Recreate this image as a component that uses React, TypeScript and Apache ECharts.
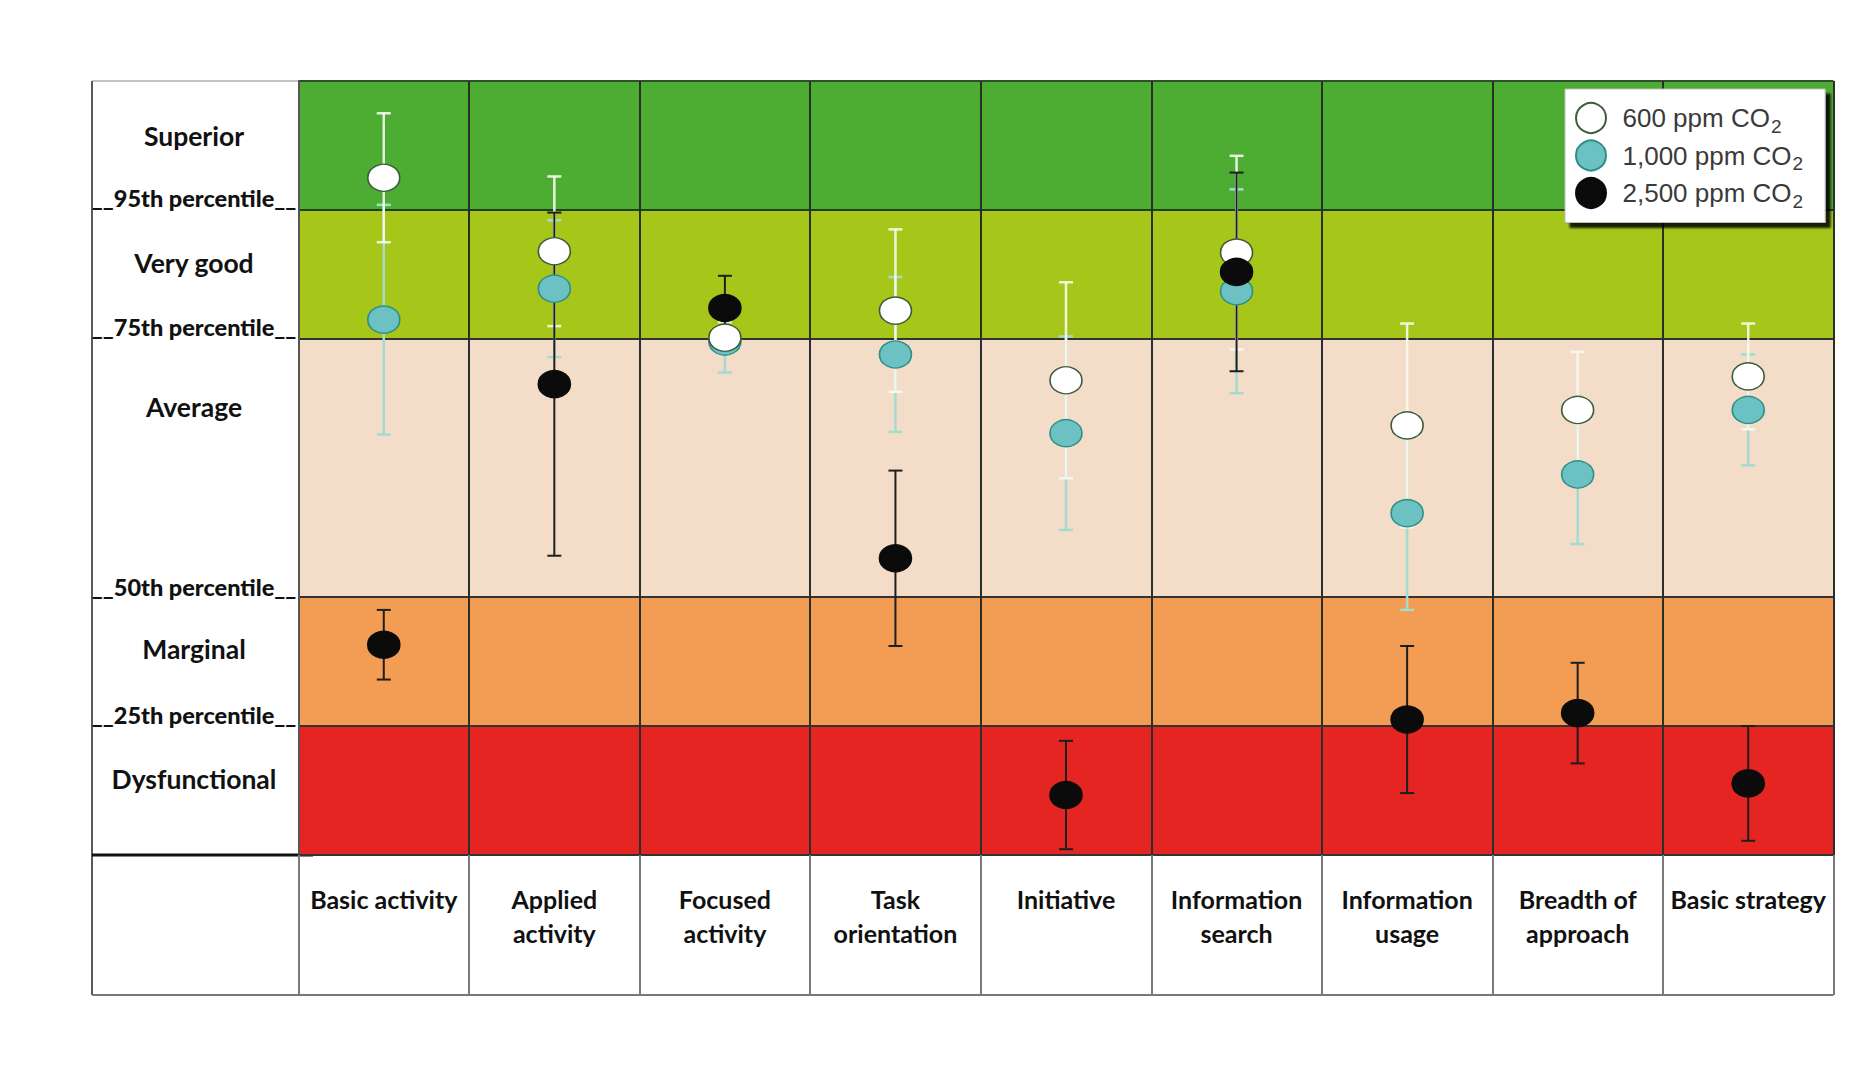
import React, { useEffect, useRef } from 'react';
import * as echarts from 'echarts';

// ---------- data ----------
const categories = [
  'Basic activity',
  'Applied\nactivity',
  'Focused\nactivity',
  'Task\norientation',
  'Initiative',
  'Information\nsearch',
  'Information\nusage',
  'Breadth of\napproach',
  'Basic strategy',
];

const seriesNames = ['600 ppm CO2', '1,000 ppm CO2', '2,500 ppm CO2'];

const mean600 = [5.25, 4.68, 4.01, 4.22, 3.68, 4.67, 3.33, 3.45, 3.71];
const err600 = [0.5, 0.58, 0.12, 0.63, 0.76, 0.75, 0.79, 0.45, 0.41];

const mean1000 = [4.15, 4.39, 3.98, 3.88, 3.27, 4.37, 2.65, 2.95, 3.45];
const err1000 = [0.89, 0.53, 0.24, 0.6, 0.75, 0.79, 0.75, 0.54, 0.43];

const mean2500 = [1.63, 3.65, 4.24, 2.3, 0.465, 4.52, 1.05, 1.1, 0.555];
const err2500 = [0.27, 1.33, 0.25, 0.68, 0.42, 0.77, 0.57, 0.39, 0.445];

const bandNames = ['Dysfunctional', 'Marginal', 'Average', 'Very good', 'Superior'];
const bandLower = [0, 1, 2, 4, 5];
const bandUpper = [1, 2, 4, 5, 6];
const bandLabelValues = [0.59, 1.6, 3.47, 4.59, 5.57];

const percentileNames = [
  '__25th percentile__',
  '__50th percentile__',
  '__75th percentile__',
  '__95th percentile__',
];
const percentileValues = [1.085, 2.08, 4.09, 5.09];

// ---------- styles ----------
const bandColors = ['#e42521', '#f29d53', '#f3ddc9', '#a6c61a', '#4dad33'];
const GRID = { left: 298.5, top: 81, width: 1535, height: 774 };
const TABLE_H = 140;
const LABEL_LEFT = 92;
const FONT = 'Lato, "Open Sans", sans-serif';
const LEGEND_FONT = '"Liberation Sans", Arial, sans-serif';

function errorSeries(means: number[], errs: number[], color: string, width: number, cap: number) {
  return {
    type: 'custom',
    silent: true,
    z: 2,
    renderItem: (_params: any, api: any) => {
      const x = api.value(0);
      const lo = api.coord([x, api.value(1)]);
      const hi = api.coord([x, api.value(2)]);
      const style = { stroke: color, lineWidth: width };
      return {
        type: 'group',
        children: [
          { type: 'line', shape: { x1: lo[0], y1: lo[1], x2: hi[0], y2: hi[1] }, style },
          { type: 'line', shape: { x1: hi[0] - cap, y1: hi[1], x2: hi[0] + cap, y2: hi[1] }, style },
          { type: 'line', shape: { x1: lo[0] - cap, y1: lo[1], x2: lo[0] + cap, y2: lo[1] }, style },
        ],
      };
    },
    encode: { x: 0, y: [1, 2] },
    data: means.map((m, i) => [i, m - errs[i], m + errs[i]]),
  };
}

function scatterSeries(name: string, means: number[], fill: string, border: string, extra: any = {}) {
  return {
    type: 'scatter',
    name,
    symbol: 'circle',
    symbolSize: [32, 27],
    z: 3,
    itemStyle: { color: fill, borderColor: border, borderWidth: 1.5, opacity: 1 },
    data: means.map((m, i) => [i, m]),
    ...extra,
  };
}

const yLabelMap: Record<string, string> = {};
bandLabelValues.forEach((v, i) => (yLabelMap[String(v)] = `{b|${bandNames[i]}}`));
percentileValues.forEach((v, i) => (yLabelMap[String(v)] = `{p|${percentileNames[i]}}`));

const option: any = {
  animation: false,
  backgroundColor: '#ffffff',
  grid: { left: GRID.left, top: GRID.top, width: GRID.width, height: GRID.height, containLabel: false },
  legend: {
    data: seriesNames,
    orient: 'vertical',
    left: 1565,
    top: 89,
    itemWidth: 33,
    itemHeight: 30,
    itemGap: 4,
    padding: [13, 22, 12, 10],
    backgroundColor: '#ffffff',
    borderColor: '#bdbdbd',
    borderWidth: 1,
    shadowColor: 'rgba(0,0,0,0.85)',
    shadowBlur: 2,
    shadowOffsetX: 5,
    shadowOffsetY: 5,
    selectedMode: false,
    formatter: (name: string) => `{n|${name.slice(0, -1)}}{s|2}`,
    textStyle: {
      rich: {
        n: { fontFamily: LEGEND_FONT, fontSize: 26, color: '#3a3a3a', padding: [0, 0, 0, 10] },
        s: { fontFamily: LEGEND_FONT, fontSize: 19, color: '#3a3a3a', padding: [16, 0, 0, 1] },
      },
    },
  },
  xAxis: {
    type: 'category',
    data: categories,
    boundaryGap: true,
    z: 1.5,
    axisLine: { show: true, lineStyle: { color: '#333333', width: 2 } },
    axisTick: { show: true, interval: 0, length: TABLE_H, lineStyle: { color: '#7a7a7a', width: 2 } },
    splitLine: { show: true, interval: 0, lineStyle: { color: '#2b2f2b', width: 2 } },
    axisLabel: {
      interval: 0,
      margin: 27,
      fontFamily: FONT,
      fontWeight: 'bold',
      fontSize: 25,
      lineHeight: 34,
      color: '#111111',
      verticalAlign: 'top',
    },
  },
  yAxis: {
    type: 'value',
    min: 0,
    max: 6,
    interval: 1,
    z: 1.5,
    axisLine: { show: true, lineStyle: { color: '#555555', width: 2 } },
    axisTick: { show: false },
    splitLine: {
      show: true,
      lineStyle: {
        width: 2,
        color: ['#333333', '#333333', '#333333', 'rgba(0,0,0,0)', '#333333', '#1f3f1f', '#2f4f2f'],
      },
    },
    axisLabel: {
      show: true,
      customValues: [...bandLabelValues, ...percentileValues],
      formatter: (v: number) => yLabelMap[String(v)] || '',
      align: 'center',
      margin: GRID.left - 194,
      rich: {
        b: { fontFamily: FONT, fontWeight: 'bold', fontSize: 26.5, color: '#111111' },
        p: { fontFamily: FONT, fontWeight: 900, fontSize: 23.5, color: '#111111' },
      },
    },
  },
  graphic: [
    {
      type: 'line',
      silent: true,
      shape: { x1: LABEL_LEFT, y1: GRID.top, x2: LABEL_LEFT, y2: GRID.top + GRID.height + TABLE_H },
      style: { stroke: '#222222', lineWidth: 1.5 },
    },
    {
      type: 'line',
      silent: true,
      shape: { x1: LABEL_LEFT, y1: GRID.top, x2: GRID.left, y2: GRID.top },
      style: { stroke: '#888888', lineWidth: 1 },
    },
    {
      type: 'line',
      silent: true,
      shape: {
        x1: LABEL_LEFT,
        y1: GRID.top + GRID.height + TABLE_H,
        x2: GRID.left + GRID.width,
        y2: GRID.top + GRID.height + TABLE_H,
      },
      style: { stroke: '#777777', lineWidth: 2 },
    },
    {
      type: 'line',
      silent: true,
      shape: { x1: LABEL_LEFT, y1: GRID.top + GRID.height, x2: 313, y2: GRID.top + GRID.height },
      style: { stroke: '#111111', lineWidth: 3 },
    },
  ],
  series: [
    errorSeries(mean1000, err1000, '#a3dbd1', 2.5, 7),
    errorSeries(mean600, err600, 'rgba(248,250,240,0.9)', 2.5, 7),
    errorSeries(mean2500, err2500, '#1e1e1e', 2, 7),
    scatterSeries(seriesNames[1], mean1000, '#6cc1c3', '#2e8f86', {
      markArea: {
        silent: true,
        z: 1,
        label: { show: false },
        data: bandLower.map((lo, i) => [
          { yAxis: lo, itemStyle: { color: bandColors[i], opacity: 1 } },
          { yAxis: bandUpper[i] },
        ]),
      },
    }),
    scatterSeries(seriesNames[0], mean600, '#ffffff', '#3d5c3a'),
    scatterSeries(seriesNames[2], mean2500, '#0b0b0b', '#0b0b0b'),
  ],
};

export default function App() {
  const ref = useRef<HTMLDivElement>(null);
  useEffect(() => {
    if (!ref.current) return;
    const chart = echarts.init(ref.current, null, { renderer: 'svg' });
    chart.setOption(option);
    return () => chart.dispose();
  }, []);
  return (
    <div
      ref={ref}
      style={{ position: 'absolute', left: 0, top: 0, width: 1854, height: 1080, background: '#ffffff' }}
    />
  );
}
